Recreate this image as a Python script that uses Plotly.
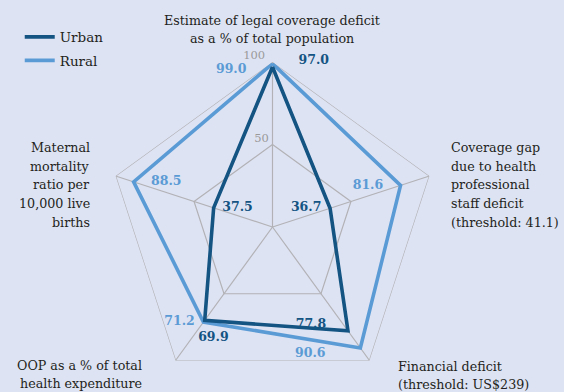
import plotly.graph_objects as go

# Dimensions (clockwise from the top)
categories = [
    "Legal coverage deficit",
    "Coverage gap",
    "Financial deficit",
    "OOP",
    "Maternal mortality",
]
urban = [97.0, 36.7, 77.8, 69.9, 37.5]
rural = [99.0, 81.6, 90.6, 71.2, 88.5]
radial_ticks = [0, 50, 100]

# Multi-line axis captions
caption_lines = {
    "top": ["Estimate of legal coverage deficit", "as a % of total population"],
    "right": ["Coverage gap", "due to health", "professional", "staff deficit", "(threshold: 41.1)"],
    "left": ["Maternal", "mortality", "ratio per", "10,000 live", "births"],
    "bottom_left": ["OOP as a % of total", "health expenditure"],
    "bottom_right": ["Financial deficit", "(threshold: US$239)"],
}

URBAN_COLOR = "#135483"
RURAL_COLOR = "#5b9bd5"
GRID_COLOR = "#b2b2b6"
BG = "#dee3f3"
TEXT = "#231f20"
FONT = "DejaVu Serif"
CAP_SIZE = 12.7
W, H = 564, 392
NB = "\u00a0"

fig = go.Figure()

# Polygon grid rings and spokes
for level in radial_ticks[1:]:
    fig.add_trace(go.Scatterpolar(
        r=[level] * (len(categories) + 1),
        theta=categories + categories[:1],
        mode="lines", line=dict(color=GRID_COLOR, width=1.2),
        hoverinfo="skip", showlegend=False, cliponaxis=False,
    ))
spoke_r, spoke_t = [], []
for c in categories:
    spoke_r += [0, radial_ticks[-1], None]
    spoke_t += [c, c, None]
fig.add_trace(go.Scatterpolar(
    r=spoke_r, theta=spoke_t, mode="lines",
    line=dict(color=GRID_COLOR, width=1.2),
    hoverinfo="skip", showlegend=False, cliponaxis=False,
))

# Radial tick labels along the top spoke
fig.add_trace(go.Scatterpolar(
    r=radial_ticks, theta=[categories[0]] * len(radial_ticks),
    mode="markers+text",
    text=[str(radial_ticks[0]), str(radial_ticks[1]) + NB, str(radial_ticks[2]) + NB * 2],
    textposition=["top left", "top left", "top left"],
    marker=dict(size=[8, 0, 0], opacity=0),
    textfont=dict(family=FONT, size=11.5, color="#9a9a9a"),
    hoverinfo="skip", showlegend=False, cliponaxis=False,
))

# Series outlines
for name, vals, color, rank in [("Rural", rural, RURAL_COLOR, 2), ("Urban", urban, URBAN_COLOR, 1)]:
    fig.add_trace(go.Scatterpolar(
        r=vals + vals[:1], theta=categories + categories[:1],
        mode="lines", name=name, legendrank=rank, legendgroup=name,
        line=dict(color=color, width=3.6, shape="linear"),
        cliponaxis=False,
    ))

# Value labels
def fmt(v, lead=0, trail=0):
    return NB * lead + f"{v:.1f}" + NB * trail

urban_text = [fmt(urban[0], lead=6), fmt(urban[1], trail=2), fmt(urban[2], trail=5),
              fmt(urban[3], lead=4), fmt(urban[4], lead=2)]
urban_pos = ["top right", "middle left", "top left", "bottom center", "middle right"]
rural_text = [fmt(rural[0], trail=6), fmt(rural[1], trail=4), fmt(rural[2], trail=8),
              fmt(rural[3], trail=2), fmt(rural[4], lead=4)]
rural_pos = ["bottom left", "middle left", "bottom left", "middle left", "middle right"]

for vals, txt, pos, color, sizes in [
    (rural, rural_text, rural_pos, RURAL_COLOR, [0, 0, 0, 0, 0]),
    (urban, urban_text, urban_pos, URBAN_COLOR, [0, 0, 0, 16, 0]),
]:
    fig.add_trace(go.Scatterpolar(
        r=vals, theta=categories, mode="markers+text",
        text=txt, textposition=pos,
        marker=dict(size=sizes, opacity=0),
        textfont=dict(family=FONT, size=12.5, color=color, weight="bold"),
        hoverinfo="skip", showlegend=False, cliponaxis=False,
    ))

# Caption annotations, one per line
caption_layout = {
    "top": dict(x=272, base=25.0, step=18.3, anchor="center"),
    "right": dict(x=449, base=151.7, step=18.75, anchor="left"),
    "left": dict(x=92, base=151.7, step=18.75, anchor="right"),
    "bottom_left": dict(x=144, base=370.0, step=18.3, anchor="right"),
    "bottom_right": dict(x=395.5, base=370.7, step=18.3, anchor="left"),
}
annotations = []
for key, lines in caption_lines.items():
    spec = caption_layout[key]
    for i, line in enumerate(lines):
        y_px = spec["base"] + i * spec["step"] - 4.4
        annotations.append(dict(
            text=line, xref="paper", yref="paper",
            x=spec["x"] / W, y=1 - y_px / H,
            xanchor=spec["anchor"], yanchor="middle", align=spec["anchor"],
            showarrow=False, font=dict(family=FONT, size=CAP_SIZE, color=TEXT),
        ))

# Polar area: full circle from y=62 px down to the bottom edge
cx, top_px = 272.5, 62.0
R = (H - top_px) / 2
fig.update_layout(
    width=W, height=H, autosize=False,
    margin=dict(l=0, r=0, t=0, b=0),
    paper_bgcolor=BG, plot_bgcolor=BG,
    polar=dict(
        bgcolor="rgba(0,0,0,0)",
        gridshape="linear",
        domain=dict(x=[(cx - R) / W, (cx + R) / W], y=[0, 1 - top_px / H]),
        radialaxis=dict(range=[0, 100], visible=False, showgrid=False),
        angularaxis=dict(rotation=90, direction="clockwise", showgrid=False,
                         showline=False, showticklabels=False, ticks=""),
    ),
    legend=dict(x=0.035, y=0.945, xanchor="left", yanchor="top",
                traceorder="grouped", tracegroupgap=3,
                bgcolor="rgba(0,0,0,0)", font=dict(family=FONT, size=13.5, color=TEXT)),
    annotations=annotations,
)

fig.write_html("out.html")
